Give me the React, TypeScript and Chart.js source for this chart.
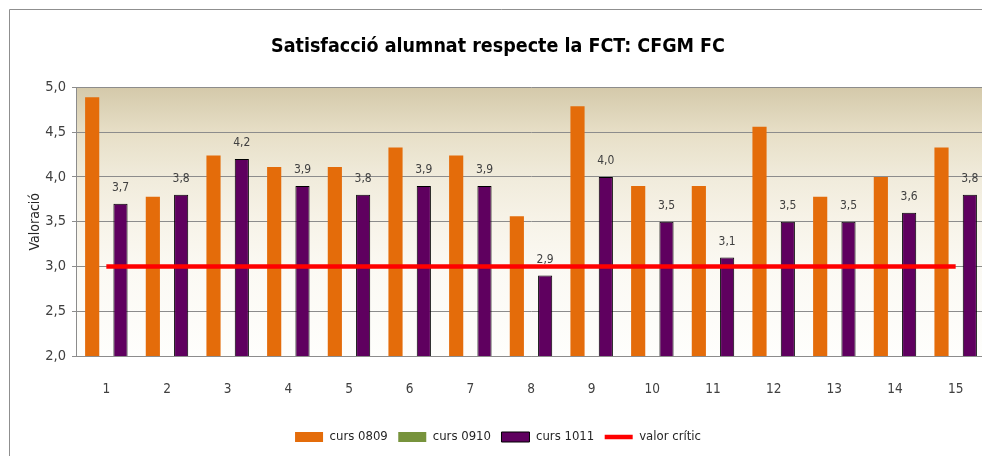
import React, { useEffect, useRef } from "react";
import { Chart, registerables } from "chart.js";

Chart.register(...registerables);

const categories = ["1", "2", "3", "4", "5", "6", "7", "8", "9", "10", "11", "12", "13", "14", "15"];
const curs0809 = [4.89, 3.78, 4.24, 4.11, 4.11, 4.33, 4.24, 3.56, 4.79, 3.9, 3.9, 4.56, 3.78, 4.0, 4.33];
const curs0910: (number | null)[] = [null, null, null, null, null, null, null, null, null, null, null, null, null, null, null];
const curs1011 = [3.7, 3.8, 4.2, 3.9, 3.8, 3.9, 3.9, 2.9, 4.0, 3.5, 3.1, 3.5, 3.5, 3.6, 3.8];
const valorCritic = [3, 3, 3, 3, 3, 3, 3, 3, 3, 3, 3, 3, 3, 3, 3];
const seriesNames = ["curs 0809", "curs 0910", "curs 1011", "valor crític"];
const chartTitle = "Satisfacció alumnat respecte la FCT: CFGM FC";
const yTitle = "Valoració";

const FONT = "'Liberation Sans Narrow', 'DejaVu Sans Condensed', 'Liberation Sans', sans-serif";

const fmt = (v: number) => v.toFixed(1).replace(".", ",");

const bgPlugin = {
  id: "bgPlugin",
  beforeDraw(chart: any) {
    const { ctx, chartArea } = chart;
    const { left, top, right, bottom } = chartArea;
    ctx.save();
    const g = ctx.createLinearGradient(0, top, 0, bottom);
    g.addColorStop(0, "#d4c9aa");
    g.addColorStop(0.17, "#e7dfc7");
    g.addColorStop(0.33, "#f0ebdb");
    g.addColorStop(0.5, "#f7f3e8");
    g.addColorStop(0.67, "#fbf9f3");
    g.addColorStop(1, "#fefefc");
    ctx.fillStyle = g;
    ctx.fillRect(left, top, right - left, bottom - top);
    ctx.strokeStyle = "#8f8f8f";
    ctx.lineWidth = 1;
    ctx.beginPath();
    ctx.moveTo(9.5, 460);
    ctx.lineTo(9.5, 9.5);
    ctx.lineTo(1000, 9.5);
    ctx.stroke();
    ctx.restore();
  },
};

const labelPlugin = {
  id: "labelPlugin",
  afterDatasetsDraw(chart: any) {
    const { ctx } = chart;
    const meta = chart.getDatasetMeta(2);
    ctx.save();
    ctx.font = `12px ${FONT}`;
    ctx.fillStyle = "#404040";
    ctx.textAlign = "center";
    ctx.textBaseline = "middle";
    meta.data.forEach((el: any, i: number) => {
      ctx.fillText(fmt(curs1011[i]), el.x, el.y - 16);
    });
    ctx.restore();
  },
};

export default function App() {
  const ref = useRef<HTMLCanvasElement | null>(null);
  useEffect(() => {
    if (!ref.current) return;
    const chart = new Chart(ref.current, {
      type: "bar",
      data: {
        labels: categories,
        datasets: [
          { label: seriesNames[0], data: curs0809, backgroundColor: "#e46c0a", borderWidth: 0, order: 1 } as any,
          { label: seriesNames[1], data: curs0910, backgroundColor: "#77933c", borderWidth: 0, order: 1 } as any,
          { label: seriesNames[2], data: curs1011, backgroundColor: "#5f005f", borderColor: "#000000", borderWidth: 1, order: 1 } as any,
          {
            type: "line",
            label: seriesNames[3],
            data: valorCritic,
            borderColor: "#ff0000",
            backgroundColor: "#ff0000",
            borderWidth: 4.5,
            pointRadius: 0,
            order: 0,
          } as any,
        ],
      },
      options: {
        responsive: false,
        animation: false,
        layout: { padding: { left: 10, right: 6, top: 0, bottom: 2.5 } },
        datasets: { bar: { categoryPercentage: 0.7, barPercentage: 1 } } as any,
        scales: {
          x: {
            grid: { display: false },
            border: { display: true, color: "#8c8c8c" },
            ticks: { color: "#404040", font: { family: FONT, size: 13.5 }, padding: 17, maxRotation: 0 },
            afterFit: (s: any) => { s.height = 64; },
          },
          y: {
            min: 2,
            max: 5,
            ticks: { stepSize: 0.5, color: "#404040", font: { family: FONT, size: 14.5 }, padding: 6, callback: (v: any) => fmt(Number(v)) },
            grid: { color: "#8c8c8c", tickLength: 4, drawTicks: true, tickColor: "#8c8c8c" },
            border: { display: true, color: "#8c8c8c" },
            title: { display: true, text: yTitle, color: "#262626", font: { family: FONT, size: 14 }, padding: { top: 16.5, bottom: 0 } },
            afterFit: (s: any) => { s.width = 66; },
          },
        },
        plugins: {
          title: {
            display: true,
            text: chartTitle,
            color: "#000000",
            font: { family: FONT, size: 19.5, weight: "bold" },
            padding: { top: 35.5, bottom: 28.5 },
          },
          legend: {
            position: "bottom",
            labels: {
              color: "#262626",
              font: { family: FONT, size: 13 },
              usePointStyle: true,
              pointStyleWidth: 28,
              boxHeight: 10,
              padding: 10.5,
              sort: (a: any, b: any) => a.datasetIndex - b.datasetIndex,
              generateLabels: (c: any) => {
                const items = (Chart.defaults.plugins.legend.labels as any).generateLabels(c);
                return items.map((it: any) => ({ ...it, pointStyle: it.datasetIndex === 3 ? "line" : "rect" }));
              },
            },
          },
          tooltip: { enabled: false },
        },
      },
      plugins: [bgPlugin, labelPlugin],
    });
    return () => chart.destroy();
  }, []);
  return (
    <div style={{ position: "fixed", left: 0, top: 0, width: 982, height: 456, overflow: "hidden", background: "#ffffff" }}>
      <canvas ref={ref} width={992} height={456} />
    </div>
  );
}
